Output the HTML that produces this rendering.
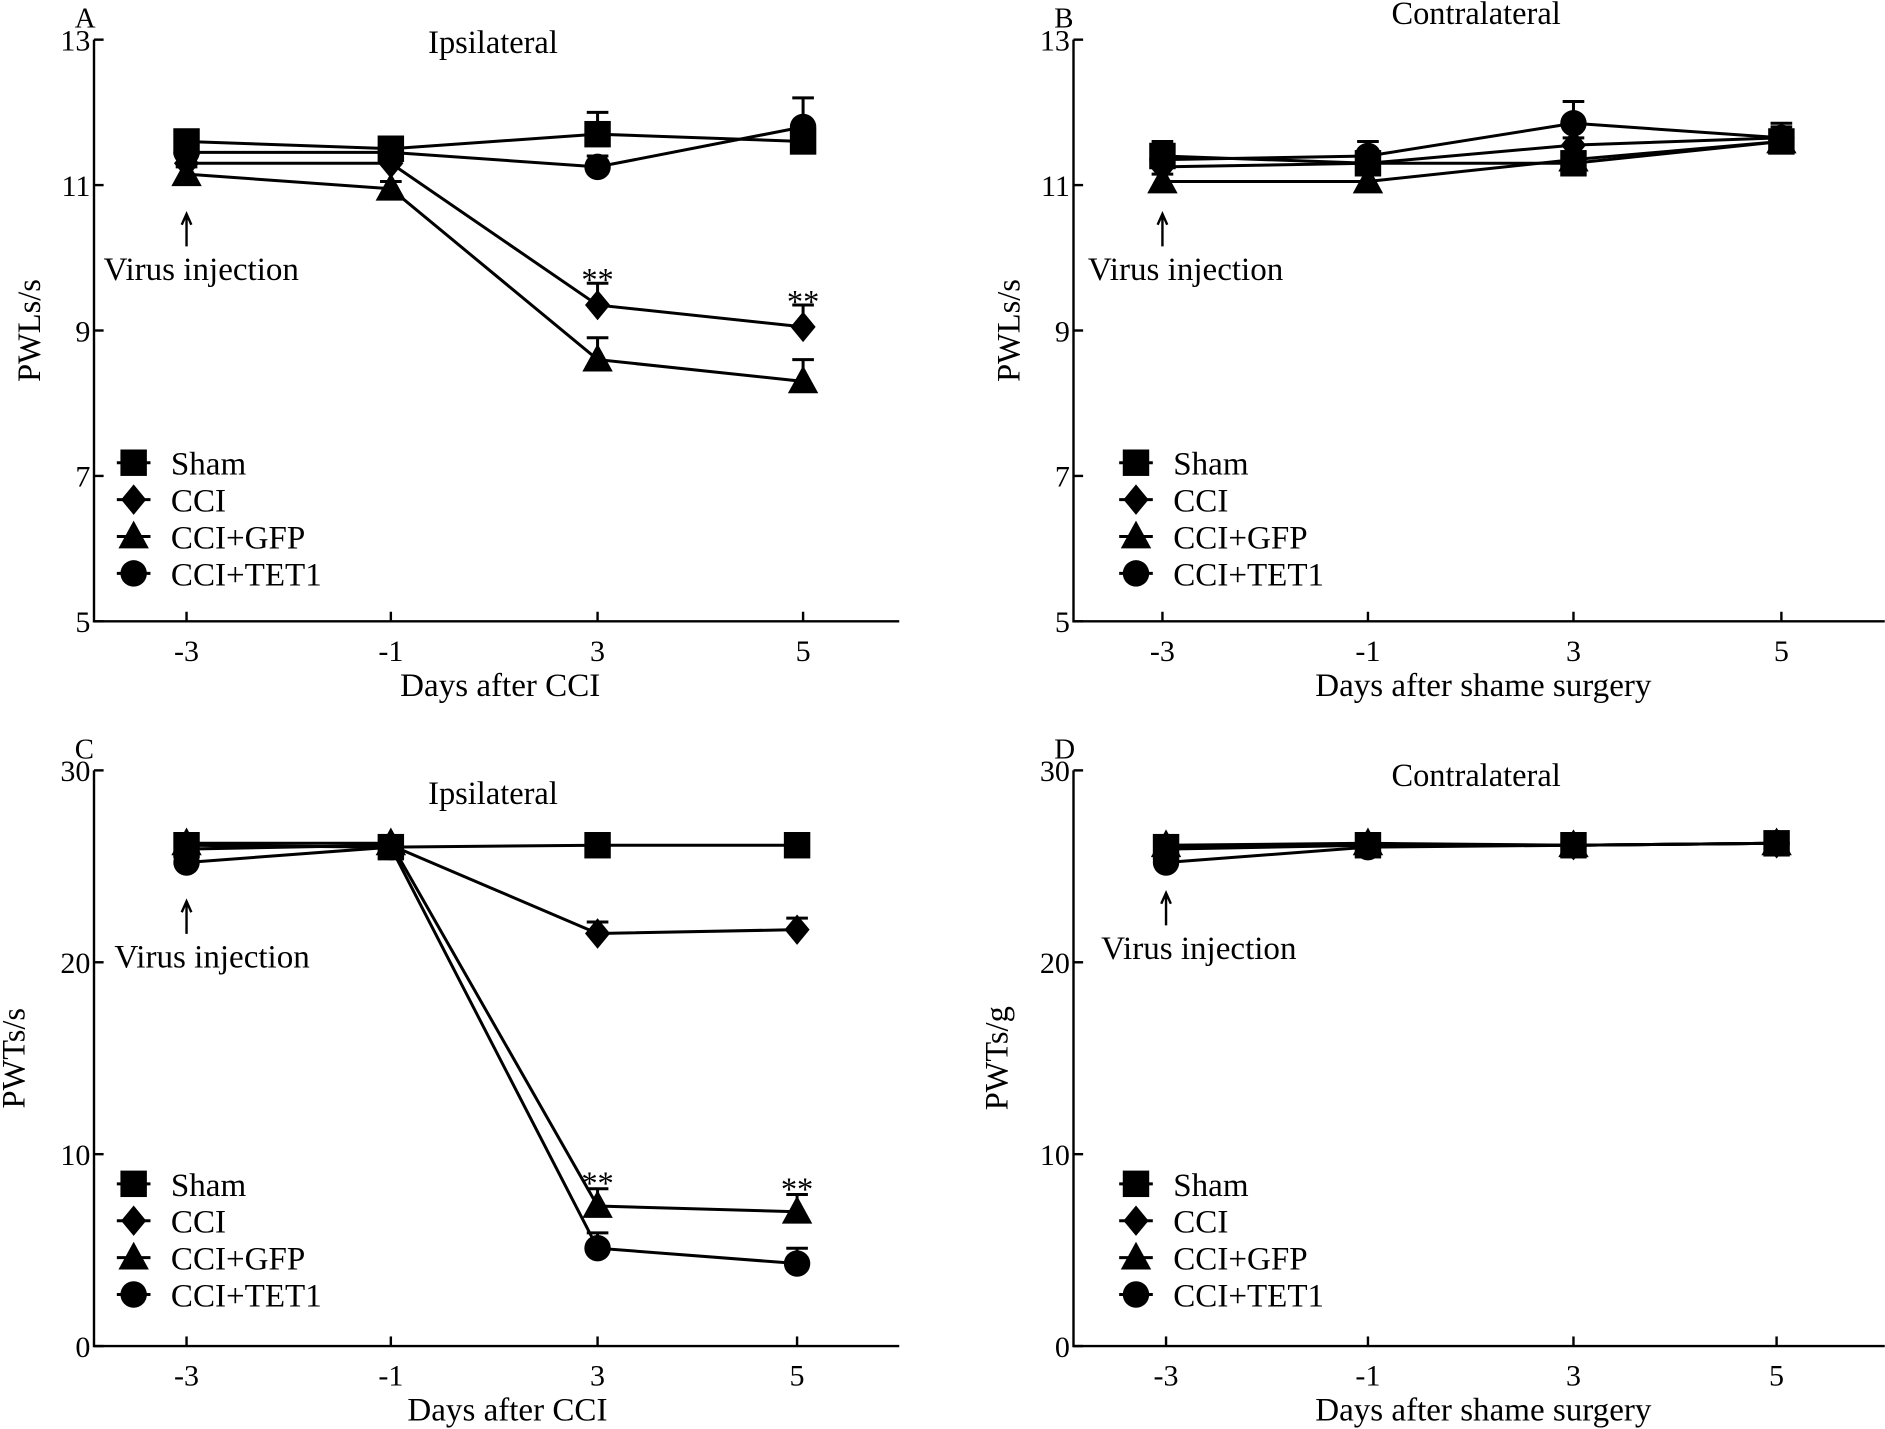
<!DOCTYPE html>
<html><head><meta charset="utf-8"><style>
html,body{margin:0;padding:0;background:#fff;}
svg{display:block;}
text{font-family:"Liberation Serif",serif;fill:#000;}
</style></head><body>
<svg id="fig" width="1885" height="1429" viewBox="0 0 1568 1189" xmlns="http://www.w3.org/2000/svg"></svg>
<script>
const days = ["-3","-1","3","5"];
const seriesNames = ["Sham","CCI","CCI+GFP","CCI+TET1"];
const markers = ["square","diamond","triangle","circle"];
// Panel A
const aSham = [11.6, 11.5, 11.7, 11.6];
const aCCI = [11.3, 11.3, 9.35, 9.05];
const aGFP = [11.15, 10.95, 8.6, 8.3];
const aTET = [11.45, 11.45, 11.25, 11.8];
const aErr = [[0.1,0.1,0.3,0.15],[0.1,0.1,0.3,0.3],[0.1,0.1,0.3,0.3],[0.1,0.1,0.15,0.4]];
// Panel B
const bSham = [11.4, 11.3, 11.3, 11.6];
const bCCI = [11.25, 11.3, 11.55, 11.65];
const bGFP = [11.05, 11.05, 11.35, 11.6];
const bTET = [11.35, 11.4, 11.85, 11.65];
const bErr = [[0.2,0.15,0.1,0.15],[0.1,0.1,0.1,0.15],[0.1,0.1,0.1,0.1],[0.1,0.2,0.3,0.2]];
// Panel C
const cSham = [26.1, 26.0, 26.1, 26.1];
const cCCI = [25.9, 26.1, 21.5, 21.7];
const cGFP = [26.2, 26.2, 7.3, 7.0];
const cTET = [25.2, 26.0, 5.1, 4.3];
const cErr = [[0.3,0.3,0.3,0.3],[0.3,0.3,0.6,0.6],[0.3,0.3,0.9,0.9],[0.3,0.3,0.8,0.8]];
// Panel D
const dSham = [26.0, 26.1, 26.1, 26.2];
const dCCI = [25.9, 26.1, 26.1, 26.2];
const dGFP = [26.1, 26.2, 26.1, 26.2];
const dTET = [25.2, 26.0, 26.1, 26.2];
const dErr = [[0.3,0.3,0.3,0.3],[0.2,0.2,0.2,0.2],[0.2,0.2,0.2,0.2],[0.3,0.2,0.2,0.2]];
const yTicksAB = [5,7,9,11,13];
const yTicksCD = [0,10,20,30];

const NS="http://www.w3.org/2000/svg";
const svg=document.getElementById('fig');
function el(tag,attrs,parent,txt){const e=document.createElementNS(NS,tag);for(const k in attrs)e.setAttribute(k,attrs[k]);if(txt!==undefined)e.textContent=txt;(parent||svg).appendChild(e);return e;}

function marker(g,type,x,y,s){
  let m;
  if(type==="square") m=el('rect',{x:x-s,y:y-s,width:2*s,height:2*s,fill:'#000'},g);
  else if(type==="diamond") m=el('polygon',{points:`${x},${y-s*1.15} ${x+s*0.95},${y} ${x},${y+s*1.15} ${x-s*0.95},${y}`,fill:'#000'},g);
  else if(type==="triangle") m=el('polygon',{points:`${x},${y-s*1.2} ${x+s*1.15},${y+s*0.9} ${x-s*1.15},${y+s*0.9}`,fill:'#000'},g);
  else m=el('circle',{cx:x,cy:y,r:s,fill:'#000'},g);
  return m;
}

function panel(cfg){
  const g=el('g',{});
  
  
  const yS=v=>cfg.yTop+(cfg.yMax-v)/(cfg.yMax-cfg.yMin)*(cfg.yBot-cfg.yTop);
  const xS=i=>cfg.xs[i];
  const ax=el('path',{d:`M${cfg.ax},${cfg.yTop} L${cfg.ax},${cfg.yBot} L${cfg.axEnd},${cfg.yBot}`,stroke:'#000','stroke-width':2,fill:'none'},g);
  
  
  cfg.yTicks.forEach(t=>{
    const y=yS(t);
    el('line',{x1:cfg.ax,x2:cfg.ax+8,y1:y,y2:y,stroke:'#000','stroke-width':2},g);
    const tl=el('text',{x:cfg.ax-3,y:y+9,'font-size':25,'text-anchor':'end'},g,String(t));
    
    
  });
  days.forEach((d,i)=>{
    el('line',{x1:xS(i),x2:xS(i),y1:cfg.yBot,y2:cfg.yBot-8,stroke:'#000','stroke-width':2},g);
    const tl=el('text',{x:xS(i),y:cfg.yBot+33,'font-size':25,'text-anchor':'middle'},g,d);
    
    
  });
  const xl=el('text',{x:cfg.xlx,y:cfg.yBot+62,'font-size':27.5,'text-anchor':'middle'},g,cfg.xlabel);
  
  
  const cy=(cfg.yTop+cfg.yBot)/2;
  const yl=el('text',{x:cfg.ylx,y:cy,'font-size':27,'text-anchor':'middle',transform:`rotate(-90 ${cfg.ylx} ${cy})`},g,cfg.ylabel);
  
  
  const tt=el('text',{x:cfg.titleX,y:cfg.titleY,'font-size':27,'text-anchor':'middle'},g,cfg.title);
  
  
  const lt=el('text',{x:cfg.ax-16,y:cfg.yTop-10,'font-size':24},g,cfg.letter);
  
  
  const ar=el('path',{d:`M${cfg.vx},${cfg.vy} L${cfg.vx},${cfg.vy-26} M${cfg.vx-4},${cfg.vy-18} L${cfg.vx},${cfg.vy-27} L${cfg.vx+4},${cfg.vy-18}`,stroke:'#000','stroke-width':2,fill:'none'},g);
  
  
  const vt=el('text',{x:cfg.vtx,y:cfg.vy+28,'font-size':27.5},g,'Virus injection');
  
  
  cfg.series.forEach((vals,si)=>{
    const sg=el('g',{},g);
    
    
    const pts=vals.map((v,i)=>`${xS(i)},${yS(v)}`).join(' ');
    el('polyline',{points:pts,fill:'none',stroke:'#000','stroke-width':2.5},sg);
    vals.forEach((v,i)=>{
      const e=cfg.err[si][i];
      const y0=yS(v),y1=yS(v+e);
      el('path',{d:`M${xS(i)},${y0} L${xS(i)},${y1} M${xS(i)-9},${y1} L${xS(i)+9},${y1}`,stroke:'#000','stroke-width':2.5,fill:'none'},sg);
      const m=marker(sg,markers[si],xS(i),y0,11);
      
      
    });
  });
  (cfg.stars||[]).forEach(s=>{
    const st=el('text',{x:xS(s[0]),y:yS(s[1])+6,'font-size':27,'text-anchor':'middle'},g,'**');
    
    
  });
  seriesNames.forEach((n,i)=>{
    const y=cfg.legY+i*30.7;
    const lg=el('g',{},g);
    
    
    el('line',{x1:cfg.legX-14,x2:cfg.legX+14,y1:y,y2:y,stroke:'#000','stroke-width':2.5},lg);
    marker(lg,markers[i],cfg.legX,y,11);
    el('text',{x:cfg.legX+31,y:y+10,'font-size':27.5},lg,n);
  });
}

panel({name:'panel-a',letter:'A',title:'Ipsilateral',titleX:410,titleY:44,ax:78,axEnd:748,yTop:33,yBot:517,yMin:5,yMax:13,yTicks:yTicksAB,
  xs:[155,325,497,668],xlabel:'Days after CCI',xlx:416,ylabel:'PWLs/s',ylx:33,
  series:[aSham,aCCI,aGFP,aTET],err:aErr,vx:155,vy:205,vtx:86,legX:111,legY:385,stars:[[2,9.65],[3,9.35]]});
panel({name:'panel-b',letter:'B',title:'Contralateral',titleX:1228,titleY:20,ax:893,axEnd:1568,yTop:33,yBot:517,yMin:5,yMax:13,yTicks:yTicksAB,
  xs:[967,1138,1309,1482],xlabel:'Days after shame surgery',xlx:1234,ylabel:'PWLs/s',ylx:848,
  series:[bSham,bCCI,bGFP,bTET],err:bErr,vx:967,vy:205,vtx:905,legX:945,legY:385});
panel({name:'panel-c',letter:'C',title:'Ipsilateral',titleX:410,titleY:669,ax:78,axEnd:748,yTop:641,yBot:1120,yMin:0,yMax:30,yTicks:yTicksCD,
  xs:[155,325,497,663],xlabel:'Days after CCI',xlx:422,ylabel:'PWTs/s',ylx:20,
  series:[cSham,cCCI,cGFP,cTET],err:cErr,vx:155,vy:777,vtx:95,legX:111,legY:985,stars:[[2,8.3],[3,8.0]]});
panel({name:'panel-d',letter:'D',title:'Contralateral',titleX:1228,titleY:654,ax:893,axEnd:1568,yTop:641,yBot:1120,yMin:0,yMax:30,yTicks:yTicksCD,
  xs:[970,1138,1309,1478],xlabel:'Days after shame surgery',xlx:1234,ylabel:'PWTs/g',ylx:838,
  series:[dSham,dCCI,dGFP,dTET],err:dErr,vx:970,vy:770,vtx:916,legX:945,legY:985});
</script>
</body></html>
